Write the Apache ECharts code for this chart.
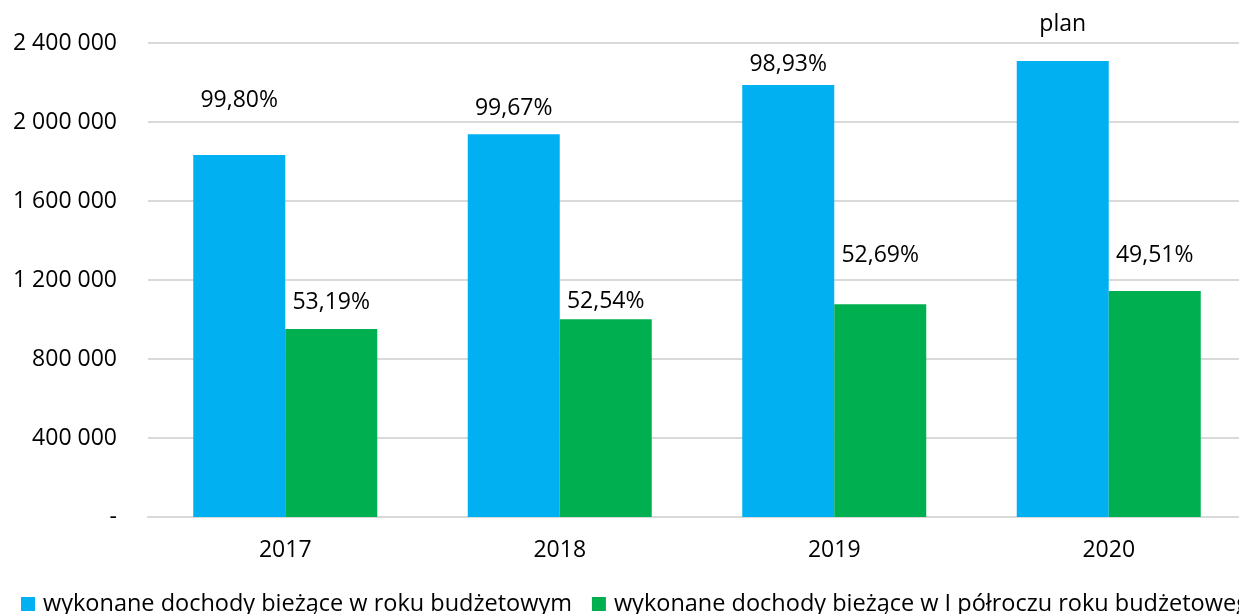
<!DOCTYPE html>
<html>
<head>
<meta charset="utf-8">
<script src="https://cdn.jsdelivr.net/npm/echarts@6/dist/echarts.min.js"></script>
<style>
  html, body { margin: 0; padding: 0; background: #fff; }
  #chart { width: 1239px; height: 614px; }
</style>
</head>
<body>
<div id="chart"></div>
<script>
// lata
var years = ['2017', '2018', '2019', '2020'];

// wartości (zł)
var roczne = [1833000, 1938000, 2187000, 2309000];
var polroczne = [952000, 1001000, 1077000, 1144000];

// etykiety nad słupkami
var roczneLbl = ['99,80%', '99,67%', '98,93%', 'plan'];
var polroczneLbl = ['53,19%', '52,54%', '52,69%', '49,51%'];

var seriesNames = [
    'wykonane dochody bieżące w roku budżetowym',
    'wykonane dochody bieżące w I półroczu roku budżetowego'
];

// odstęp etykiety od wierzchołka słupka (jak w oryginale z Excela)
var liftA = [43, 14, 9, 25];
var liftB = [15, 6, 37, 24];

var fnt = '"Open Sans", "DejaVu Sans", sans-serif';
var fs = 23;

let withLabels = (vals, lbls, lift) => vals.map((v, i) => ({
    value: v,
    label: { distance: lift[i], formatter: lbls[i] }
}));

var option = {
    animation: false,
    textStyle: { fontFamily: fnt },
    legend: {
        left: 21,
        top: 592,
        width: 2000,
        padding: 0,
        itemWidth: 14,
        itemHeight: 14,
        itemGap: 20,
        icon: 'rect',
        textStyle: { fontSize: 23.5, color: '#000', fontFamily: fnt, padding: [0, 0, 0, 3] },
        data: seriesNames
    },
    grid: {
        left: 148,
        top: 43,
        width: 1098,
        height: 474,
        outerBoundsMode: 'none'
    },
    xAxis: {
        type: 'category',
        data: years,
        axisTick: { show: false },
        axisLine: { show: true, lineStyle: { color: '#d9d9d9', width: 2 } },
        axisLabel: { fontSize: fs, color: '#000', margin: 22, fontFamily: fnt }
    },
    yAxis: {
        type: 'value',
        min: 0,
        max: 2400000,
        interval: 400000,
        axisLine: { show: false },
        axisTick: { show: false },
        splitLine: { lineStyle: { color: '#d9d9d9', width: 2 } },
        axisLabel: {
            fontSize: fs,
            color: '#000',
            margin: 31,
            fontFamily: fnt,
            formatter: v => v === 0 ? '-' : String(v).replace(/\B(?=(\d{3})+(?!\d))/g, ' ')
        }
    },
    series: [
        {
            name: seriesNames[0],
            type: 'bar',
            barWidth: 92,
            barGap: '0%',
            itemStyle: { color: '#00b0f0' },
            label: { show: true, position: 'top', fontSize: fs, color: '#000', fontFamily: fnt },
            data: withLabels(roczne, roczneLbl, liftA)
        },
        {
            name: seriesNames[1],
            type: 'bar',
            barWidth: 92,
            barGap: '0%',
            itemStyle: { color: '#00b050' },
            label: { show: true, position: 'top', fontSize: fs, color: '#000', fontFamily: fnt },
            data: withLabels(polroczne, polroczneLbl, liftB)
        }
    ]
};

var myChart = echarts.init(document.getElementById('chart'));
myChart.setOption(option);
</script>
</body>
</html>
